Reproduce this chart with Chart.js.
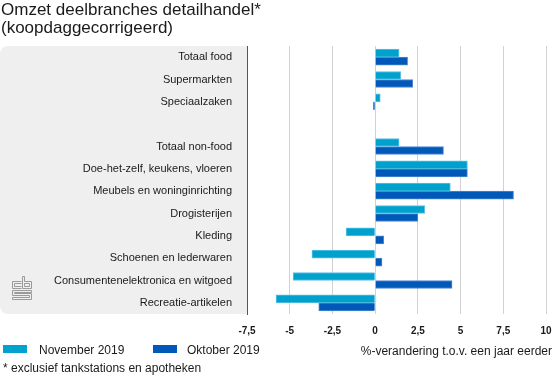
<!DOCTYPE html>
<html>
<head>
<meta charset="utf-8">
<script src="https://cdn.jsdelivr.net/npm/chart.js@4.4.1/dist/chart.umd.min.js"></script>
<style>
  html, body { margin: 0; padding: 0; background: #fff; }
  #wrap { position: relative; width: 555px; height: 378px; overflow: hidden;
          font-family: 'Liberation Sans', Arial, Helvetica, sans-serif; color: #1a1a1a; }
  #wrap canvas { position: absolute; left: 0; top: 0; }
  .txt { position: absolute; line-height: 1; white-space: nowrap; }
  .title { font-size: 17px; left: 1px; }
  .small { font-size: 12px; }
  .swatch { position: absolute; width: 24px; height: 8px; }
</style>
</head>
<body>
<div id="wrap">
  <canvas id="chart" width="555" height="378"></canvas>
  <div class="txt title" style="top:1px">Omzet deelbranches detailhandel*</div>
  <div class="txt title" style="top:19px">(koopdaggecorrigeerd)</div>

  <div class="swatch" style="left:3px; top:345px; background:#00a1cd"></div>
  <div class="txt small" style="left:39px; top:344px">November 2019</div>
  <div class="swatch" style="left:153px; top:345px; background:#0058b8"></div>
  <div class="txt small" style="left:187px; top:344px">Oktober 2019</div>
  <div class="txt small" style="right:3px; top:345px">%-verandering t.o.v. een jaar eerder</div>
  <div class="txt small" style="left:3px; top:362px">* exclusief tankstations en apotheken</div>
</div>

<script>
// ---- Data ------------------------------------------------
const CATEGORIES = [
  'Totaal food', 'Supermarkten', 'Speciaalzaken', '',
  'Totaal non-food', 'Doe-het-zelf, keukens, vloeren', 'Meubels en woninginrichting',
  'Drogisterijen', 'Kleding', 'Schoenen en lederwaren',
  'Consumentenelektronica en witgoed', 'Recreatie-artikelen'
];
const NOV_2019 = [1.4, 1.5, 0.3, null, 1.4, 5.4, 4.4, 2.9, -1.7, -3.7, -4.8, -5.8];
const OKT_2019 = [1.9, 2.2, -0.1, null, 4.0, 5.4, 8.1, 2.5, 0.5, 0.4, 4.5, -3.3];
const X_MIN = -7.5, X_MAX = 10, X_STEP = 2.5;

const LIGHT_BLUE = '#00a1cd';
const DARK_BLUE  = '#0058b8';
const FONT = "'Liberation Sans', Arial, Helvetica, sans-serif";

// grey label panel + small cbs logo behind the chart
const panelPlugin = {
  id: 'panel',
  beforeDraw(chart) {
    const { ctx, chartArea: a } = chart;
    ctx.save();
    ctx.fillStyle = '#efefef';
    ctx.beginPath();
    ctx.roundRect(0, a.top, a.left, a.bottom - a.top, [8, 0, 0, 8]);
    ctx.fill();

    // cbs logo, rough outline
    ctx.strokeStyle = '#9a9a9a';
    ctx.lineWidth = 1;
    ctx.beginPath();
    // c
    ctx.moveTo(21.5, 281.5); ctx.lineTo(12.5, 281.5); ctx.lineTo(12.5, 288.5); ctx.lineTo(21.5, 288.5);
    ctx.moveTo(21.5, 283.5); ctx.lineTo(14.5, 283.5); ctx.lineTo(14.5, 286.5); ctx.lineTo(21.5, 286.5);
    // b
    ctx.moveTo(22.5, 276.5); ctx.lineTo(22.5, 288.5); ctx.lineTo(31.5, 288.5); ctx.lineTo(31.5, 281.5);
    ctx.lineTo(24.5, 281.5); ctx.lineTo(24.5, 276.5); ctx.closePath();
    ctx.rect(24.5, 283.5, 5, 3);
    // S
    ctx.moveTo(31.5, 290.5); ctx.lineTo(12.5, 290.5); ctx.lineTo(12.5, 295.5); ctx.lineTo(29.5, 295.5);
    ctx.lineTo(29.5, 297.5); ctx.lineTo(12.5, 297.5); ctx.lineTo(12.5, 299.5); ctx.lineTo(31.5, 299.5);
    ctx.lineTo(31.5, 293.5); ctx.lineTo(14.5, 293.5); ctx.lineTo(14.5, 292.5); ctx.lineTo(31.5, 292.5);
    ctx.closePath();
    ctx.stroke();
    ctx.restore();
  }
};

new Chart(document.getElementById('chart'), {
  type: 'bar',
  data: {
    labels: CATEGORIES,
    datasets: [
      {
        label: 'November 2019',
        data: NOV_2019,
        backgroundColor: LIGHT_BLUE,
        borderColor: '#5cc2e4',
        borderWidth: 1,
        barThickness: 8,
        categoryPercentage: 0.83,
        barPercentage: 1
      },
      {
        label: 'Oktober 2019',
        data: OKT_2019,
        backgroundColor: DARK_BLUE,
        borderColor: '#4f88cf',
        borderWidth: 1,
        barThickness: 8,
        categoryPercentage: 0.83,
        barPercentage: 1
      }
    ]
  },
  options: {
    indexAxis: 'y',
    responsive: false,
    animation: false,
    layout: { padding: { top: 46, right: 9, bottom: 0, left: 0 } },
    plugins: {
      legend: { display: false },
      tooltip: { enabled: false }
    },
    scales: {
      y: {
        grid: { display: false, drawTicks: false },
        border: { color: '#555', width: 1 },
        ticks: {
          color: '#1a1a1a',
          font: { family: FONT, size: 11 },
          padding: 15,
          autoSkip: false
        },
        afterFit: s => { s.width = 247; s.paddingTop = 0; s.paddingBottom = 0; }
      },
      x: {
        min: X_MIN,
        max: X_MAX,
        grid: { color: '#d2d2d2', drawTicks: false },
        border: { display: false },
        ticks: {
          stepSize: X_STEP,
          color: '#1a1a1a',
          font: { family: FONT, size: 10, weight: 'bold' },
          padding: 11,
          callback: v => String(v).replace('.', ',')
        },
        afterFit: s => { s.height = 64; s.paddingLeft = 0; s.paddingRight = 0; }
      }
    }
  },
  plugins: [panelPlugin]
});
</script>
</body>
</html>
